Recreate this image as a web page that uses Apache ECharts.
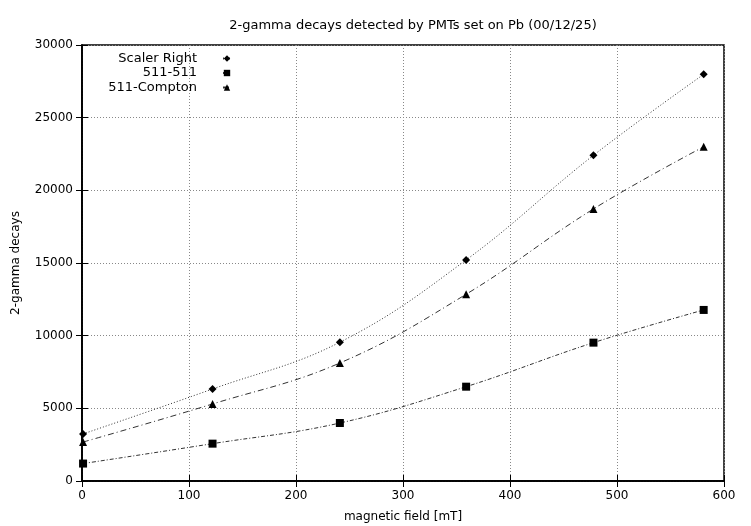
<!DOCTYPE html>
<html>
<head>
<meta charset="utf-8">
<script src="https://cdn.jsdelivr.net/npm/echarts@6/dist/echarts.min.js"></script>
<style>html,body{margin:0;padding:0;background:#fff}#c{width:751px;height:526px}</style>
</head>
<body>
<div id="c"></div>
<script>
var titleText = '2-gamma decays detected by PMTs set on Pb (00/12/25)';
var xName = 'magnetic field [mT]';
var yName = '2-gamma decays';
var seriesNames = ['Scaler Right', '511-511', '511-Compton'];
var fieldX = [1, 122, 241, 359, 478, 581];
var scalerRight = [3240, 6330, 9550, 15210, 22410, 27980];
var v511_511 = [1200, 2570, 3990, 6490, 9520, 11770];
var v511_compton = [2680, 5300, 8120, 12850, 18720, 23000];
var xTicks = [0, 100, 200, 300, 400, 500, 600];
var yTicks = [0, 5000, 10000, 15000, 20000, 25000, 30000];

function pairs(xs, ys){ return xs.map(function(x,i){ return [x, ys[i]]; }); }

var font = 'DejaVu Sans, sans-serif';
var fs = 12;
var chart = echarts.init(document.getElementById('c'), null, {renderer:'canvas'});

function legendFor(name, top){
  return {
    data: [name], right: 519, top: top, orient: 'vertical', align: 'right',
    itemWidth: 8, itemHeight: 8, padding: 0, itemGap: 0,
    formatter: '{a|{name}}',
    textStyle: { fontFamily: font, fontSize: 13, color: '#000',
      rich: { a: { fontFamily: font, fontSize: 13, color: '#000', padding: [0, 21, 0, 0] } } },
    selectedMode: false
  };
}

var option = {
  animation: false,
  backgroundColor: '#fff',
  title: { text: titleText, left: 408, top: 14, textAlign: 'center',
    textStyle: { fontFamily: font, fontSize: 13, fontWeight: 'normal', color: '#000' } },
  legend: [ legendFor(seriesNames[0], 52), legendFor(seriesNames[1], 66.5), legendFor(seriesNames[2], 81) ],
  grid: { left: 82, right: 27, top: 45, bottom: 45, containLabel: false, outerBoundsMode: 'none',
    show: true, borderColor: '#000', borderWidth: 1.5, backgroundColor: 'transparent' },
  xAxis: [{
    type: 'value', min: xTicks[0], max: xTicks[xTicks.length-1], interval: 100,
    name: xName, nameLocation: 'middle', nameGap: 30,
    nameTextStyle: { fontFamily: font, fontSize: fs, color: '#000' },
    axisLine: { show: true, lineStyle: { color: '#000', width: 1.5 } },
    axisTick: { show: true, inside: true, length: 6, lineStyle: { color: '#000' } },
    axisLabel: { fontFamily: font, fontSize: fs, color: '#000', margin: 9 },
    splitLine: { show: true, lineStyle: { type: [1, 2], color: '#888', width: 1 } }
  }, {
    type: 'value', position: 'top', min: xTicks[0], max: xTicks[xTicks.length-1], interval: 100,
    axisLine: { show: true, lineStyle: { color: '#000', width: 1.5 } },
    axisTick: { show: true, inside: true, length: 6, lineStyle: { color: '#000' } },
    axisLabel: { show: false }, splitLine: { show: false }
  }],
  yAxis: [{
    type: 'value', min: yTicks[0], max: yTicks[yTicks.length-1], interval: 5000,
    name: yName, nameLocation: 'middle', nameGap: 60, nameRotate: 90,
    nameTextStyle: { fontFamily: font, fontSize: fs, color: '#000' },
    axisLine: { show: true, lineStyle: { color: '#000', width: 1.5 } },
    axisTick: { show: true, inside: true, length: 6, lineStyle: { color: '#000' } },
    axisLabel: { fontFamily: font, fontSize: fs, color: '#000', margin: 9,
      formatter: function(v){ return String(v); } },
    splitLine: { show: true, lineStyle: { type: [1, 2], color: '#888', width: 1 } }
  }, {
    type: 'value', position: 'right', min: yTicks[0], max: yTicks[yTicks.length-1], interval: 5000,
    axisLine: { show: true, lineStyle: { color: '#000', width: 1.5 } },
    axisTick: { show: true, inside: true, length: 6, lineStyle: { color: '#000' } },
    axisLabel: { show: false }, splitLine: { show: false }
  }],
  series: [{
    name: seriesNames[0], type: 'line', data: pairs(fieldX, scalerRight),
    smooth: 0.4, symbol: 'diamond', symbolSize: 8,
    itemStyle: { color: '#000' },
    lineStyle: { color: '#333', width: 1, type: [1, 2] }
  }, {
    name: seriesNames[1], type: 'line', data: pairs(fieldX, v511_511),
    smooth: 0.4, symbol: 'rect', symbolSize: 8,
    itemStyle: { color: '#000' },
    lineStyle: { color: '#333', width: 1, type: [4, 2, 1, 2] }
  }, {
    name: seriesNames[2], type: 'line', data: pairs(fieldX, v511_compton),
    smooth: 0.4, symbol: 'triangle', symbolSize: 8,
    itemStyle: { color: '#000' },
    lineStyle: { color: '#333', width: 1, type: [6, 3, 1, 3] }
  }]
};
chart.setOption(option);
</script>
</body>
</html>
